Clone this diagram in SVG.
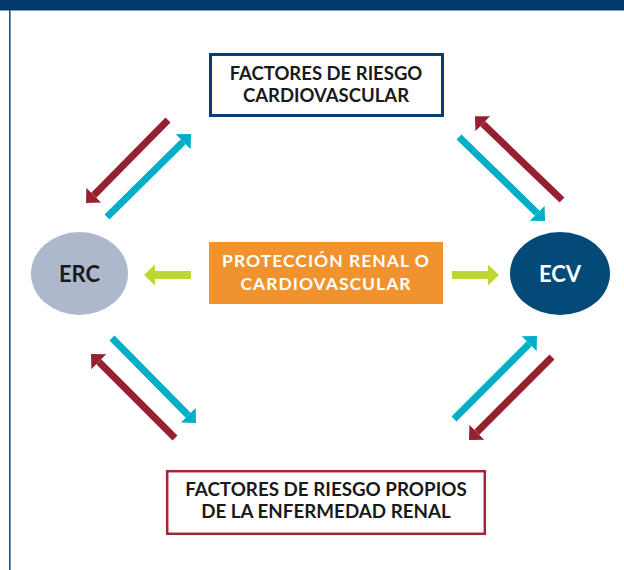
<svg xmlns="http://www.w3.org/2000/svg" width="624" height="570" viewBox="0 0 624 570">
  <style>
    .t { font-family: Lato, "Noto Sans", "Liberation Sans", sans-serif; font-weight: bold; text-anchor: middle; }
    .dark { fill: #1a1a1a; }
    .white { fill: #ffffff; }
    .red { stroke: #952030; stroke-width: 7; fill: none; }
    .cyan { stroke: #00aec7; stroke-width: 7; fill: none; }
    .green { stroke: #c0d731; stroke-width: 8; fill: none; }
  </style>
  <defs>
    <marker id="hRed" markerUnits="userSpaceOnUse" markerWidth="11" markerHeight="21" viewBox="0 0 11 21" refX="0" refY="10.5" orient="auto">
      <path d="M0,0 L11,10.5 L0,21 Z" fill="#952030"/>
    </marker>
    <marker id="hCyan" markerUnits="userSpaceOnUse" markerWidth="11" markerHeight="21" viewBox="0 0 11 21" refX="0" refY="10.5" orient="auto">
      <path d="M0,0 L11,10.5 L0,21 Z" fill="#00aec7"/>
    </marker>
    <marker id="hGreen" markerUnits="userSpaceOnUse" markerWidth="11" markerHeight="21" viewBox="0 0 11 21" refX="0" refY="10.5" orient="auto">
      <path d="M0,0 L11,10.5 L0,21 Z" fill="#c0d731"/>
    </marker>
  </defs>

  <rect x="0" y="0" width="624" height="570" fill="#ffffff"/>
  <rect x="0" y="0" width="624" height="10.5" fill="#043a6b"/>
  <line x1="9.8" y1="10" x2="9.8" y2="570" stroke="#1f4f80" stroke-width="1.6"/>

  <g id="connectors">
    <line class="red" x1="168" y1="120" x2="93.8" y2="195.2" marker-end="url(#hRed)"/>
    <line class="cyan" x1="107" y1="217" x2="183.2" y2="141.8" marker-end="url(#hCyan)"/>
    <line class="red" x1="562" y1="200" x2="482.8" y2="123.8" marker-end="url(#hRed)"/>
    <line class="cyan" x1="459" y1="137" x2="537.2" y2="213.2" marker-end="url(#hCyan)"/>
    <line class="cyan" x1="112" y1="338" x2="188.2" y2="415.2" marker-end="url(#hCyan)"/>
    <line class="red" x1="175" y1="438" x2="98.8" y2="361.8" marker-end="url(#hRed)"/>
    <line class="cyan" x1="454" y1="419" x2="529.2" y2="343.8" marker-end="url(#hCyan)"/>
    <line class="red" x1="552" y1="357" x2="476.8" y2="432.2" marker-end="url(#hRed)"/>
    <line class="green" x1="191" y1="275" x2="155" y2="275" marker-end="url(#hGreen)"/>
    <line class="green" x1="452" y1="275" x2="488" y2="275" marker-end="url(#hGreen)"/>
  </g>

  <g id="node-frcv">
    <rect x="210.5" y="54.5" width="232" height="61" fill="#ffffff" stroke="#0d3d6e" stroke-width="3"/>
    <text class="t dark" x="326" y="80" font-size="18.5">FACTORES DE RIESGO</text>
    <text class="t dark" x="326" y="102" font-size="18.5">CARDIOVASCULAR</text>
  </g>

  <g id="node-erc">
    <ellipse cx="79.5" cy="273.5" rx="48.5" ry="41.5" fill="#adb8cc"/>
    <text class="t dark" x="79.5" y="282" font-size="22">ERC</text>
  </g>

  <g id="node-proteccion">
    <rect x="209" y="242" width="234" height="62" fill="#f0932f"/>
    <text class="t white" x="326" y="267" font-size="17.5" letter-spacing="1">PROTECCIÓN RENAL O</text>
    <text class="t white" x="326" y="290" font-size="17.5" letter-spacing="1">CARDIOVASCULAR</text>
  </g>

  <g id="node-ecv">
    <ellipse cx="560" cy="273.5" rx="50" ry="41.5" fill="#034a78"/>
    <text class="t white" x="560" y="282" font-size="22">ECV</text>
  </g>

  <g id="node-frrenal">
    <rect x="167.2" y="471.2" width="317.6" height="62.6" fill="#ffffff" stroke="#9a2a36" stroke-width="2.5"/>
    <text class="t dark" x="326" y="496" font-size="18.8">FACTORES DE RIESGO PROPIOS</text>
    <text class="t dark" x="326" y="518" font-size="18.8">DE LA ENFERMEDAD RENAL</text>
  </g>
</svg>
